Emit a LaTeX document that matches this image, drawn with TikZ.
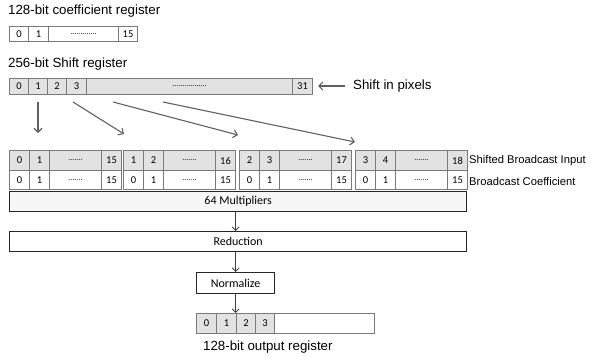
\documentclass[tikz,border=0pt]{standalone}
\usepackage{fontspec}
\setmainfont{Liberation Sans}
\newfontfamily\calfont{Carlito}
\usetikzlibrary{arrows.meta}
\definecolor{bgray}{HTML}{7A7A7A}
\definecolor{fgray}{HTML}{E2E2E2}
\definecolor{agray}{HTML}{606060}
\tikzset{
  cell/.style={draw=bgray, line width=1pt, anchor=north west, inner sep=0pt,
    font=\calfont\fontsize{10.5}{11}\selectfont},
  gcell/.style={cell, fill=fgray},
  bigbox/.style={draw=black!85, line width=1.3pt, anchor=north west, inner sep=0pt,
    font=\calfont\fontsize{12}{13}\selectfont},
  lbl/.style={anchor=west, inner sep=0pt, font=\fontsize{13.3}{15}\selectfont},
  slbl/.style={anchor=west, inner sep=0pt, font=\fontsize{11.2}{13}\selectfont},
  garrow/.style={draw=agray, line width=1.1pt, -{Straight Barb[length=4pt,width=8pt]}},
  karrow/.style={draw=black!75, line width=0.9pt, -{Straight Barb[length=3.5pt,width=7pt]}}
}
\begin{document}
\begin{tikzpicture}[x=1pt,y=-1pt]
\useasboundingbox (0,0) rectangle (591,356);

% titles
\node[lbl] (t1) at (8,11) {128-bit coefficient register};
\node[lbl] (t2) at (8,64) {256-bit Shift register};

% coefficient register
\node[cell, minimum width=19pt, minimum height=15pt] (c0) at (9,26) {0};
\node[cell, minimum width=20pt, minimum height=15pt] (c1) at (28,26) {1};
\node[cell, minimum width=70pt, minimum height=15pt] (cd) at (48,26) {\fontsize{8}{9}\selectfont.............};
\node[cell, minimum width=19pt, minimum height=15pt] (c15) at (118,26) {15};

% shift register
\node[gcell, minimum width=19pt, minimum height=16pt] (s0) at (9,78) {0};
\node[gcell, minimum width=19pt, minimum height=16pt] (s1) at (28,78) {1};
\node[gcell, minimum width=19pt, minimum height=16pt] (s2) at (47,78) {2};
\node[gcell, minimum width=20pt, minimum height=16pt] (s3) at (66,78) {3};
\node[gcell, minimum width=206pt, minimum height=16pt] (sd) at (86,78) {\fontsize{8}{9}\selectfont.................};
\node[gcell, minimum width=20pt, minimum height=16pt] (s31) at (292,78) {31};

\coordinate (pin) at (345,86);
\coordinate (pout) at (318,86);
\draw[garrow] (pin) -- (pout);
\node[lbl] (sip) at (353,86) {Shift in pixels};

% arrows to broadcast groups
\coordinate (a1s) at (38,102);  \coordinate (a1e) at (38,133);
\coordinate (a2s) at (73,102);  \coordinate (a2e) at (124,134);
\coordinate (a3s) at (113,102); \coordinate (a3e) at (238,135);
\coordinate (a4s) at (163,102); \coordinate (a4e) at (355,142);
\draw[garrow] (a1s) -- (a1e);
\draw[garrow] (a2s) -- (a2e);
\draw[garrow] (a3s) -- (a3e);
\draw[garrow] (a4s) -- (a4e);

% broadcast groups
\foreach \gx/\a/\b/\c [count=\i] in {9/0/1/15, 123/1/2/16, 239/2/3/17, 355/3/4/18}{
  \node[gcell, minimum width=20pt, minimum height=20pt] (g\i a) at (\gx,150) {\a};
  \node[gcell, minimum width=20pt, minimum height=20pt] (g\i b) at (\gx+20,150) {\b};
  \node[gcell, minimum width=52pt, minimum height=20pt] (g\i d) at (\gx+40,150) {\fontsize{8}{9}\selectfont.......};
  \node[gcell, minimum width=20pt, minimum height=20pt] (g\i c) at (\gx+92,150) {\c};
  \node[cell, minimum width=20pt, minimum height=19pt] (h\i a) at (\gx,170) {0};
  \node[cell, minimum width=20pt, minimum height=19pt] (h\i b) at (\gx+20,170) {1};
  \node[cell, minimum width=52pt, minimum height=19pt] (h\i d) at (\gx+40,170) {\fontsize{8}{9}\selectfont.......};
  \node[cell, minimum width=20pt, minimum height=19pt] (h\i c) at (\gx+92,170) {15};
}
\node[slbl] (sbi) at (469,161) {Shifted Broadcast Input};
\node[slbl] (bc) at (469,181) {Broadcast Coefficient};

% processing boxes
\node[bigbox, fill=black!3, minimum width=457pt, minimum height=20pt] (mul) at (9,191) {64 Multipliers};
\node[bigbox, fill=white, minimum width=457pt, minimum height=20pt] (red) at (9,231) {Reduction};
\node[bigbox, fill=white, minimum width=78pt, minimum height=21pt] (nrm) at (196,272) {Normalize};
\draw[karrow] (mul.south -| nrm.north) -- (red.north -| nrm.north);
\draw[karrow] (red.south -| nrm.north) -- (nrm.north);

% output register
\node[gcell, minimum width=20pt, minimum height=20pt] (o0) at (196,313) {0};
\node[gcell, minimum width=20pt, minimum height=20pt] (o1) at (216,313) {1};
\node[gcell, minimum width=19pt, minimum height=20pt] (o2) at (236,313) {2};
\node[gcell, minimum width=19pt, minimum height=20pt] (o3) at (255,313) {3};
\node[cell, minimum width=100pt, minimum height=20pt] (o4) at (274,313) {};
\draw[karrow] (nrm.south) -- (nrm.south |- o0.north);
\node[lbl] (t3) at (203,347) {128-bit output register};
\end{tikzpicture}
\end{document}
